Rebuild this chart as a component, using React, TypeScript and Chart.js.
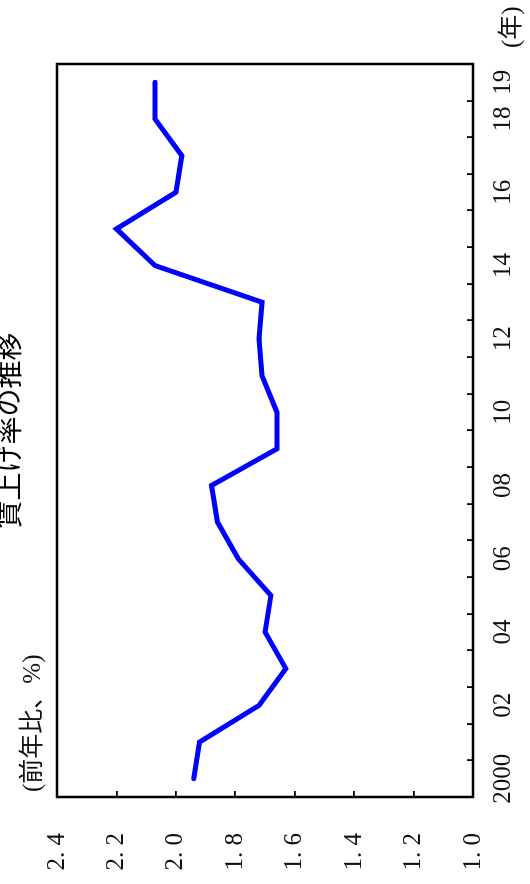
import React, { useEffect, useRef } from 'react';
import { Chart, registerables } from 'chart.js';

Chart.register(...registerables);

// ---- data ----
const years: string[] = [
  '2000', '01', '02', '03', '04', '05', '06', '07', '08', '09',
  '10', '11', '12', '13', '14', '15', '16', '17', '18', '19',
];
const shownYears: string[] = ['2000', '02', '04', '06', '08', '10', '12', '14', '16', '18', '19'];
const wageRise: number[] = [
  1.94, 1.92, 1.72, 1.63, 1.70, 1.68, 1.79, 1.86, 1.88, 1.66,
  1.66, 1.71, 1.72, 1.71, 2.07, 2.20, 2.00, 1.98, 2.07, 2.07,
];
const valueMin = 1.0;
const valueMax = 2.4;
const valueStep = 0.2;
const titleText = '賃上げ率の推移';
const valueUnit = '(前年比、%)';
const yearUnit = '(年)';

const W = 884;
const H = 530;

const decor = {
  id: 'decor',
  afterDraw(chart: any) {
    const { ctx, chartArea: a } = chart;
    ctx.save();
    ctx.strokeStyle = '#000';
    ctx.lineWidth = 2.5;
    ctx.strokeRect(a.left, a.top, a.right - a.left, a.bottom - a.top);
    ctx.fillStyle = '#000';
    ctx.font = '28px "Noto Sans CJK JP"';
    ctx.textAlign = 'center';
    ctx.textBaseline = 'middle';
    ctx.fillText(titleText, (a.left + a.right) / 2, 8);
    ctx.fillStyle = '#111';
    ctx.font = '25px "Liberation Serif", "Noto Sans CJK JP"';
    ctx.textAlign = 'left';
    ctx.textBaseline = 'alphabetic';
    ctx.fillText(valueUnit, a.left + 5, 40);
    ctx.fillText(yearUnit, a.right + 16, 519);
    ctx.restore();
  },
};

export default function App() {
  const ref = useRef<HTMLCanvasElement | null>(null);
  useEffect(() => {
    if (!ref.current) return;
    const chart = new Chart(ref.current, {
      type: 'line',
      data: {
        labels: years,
        datasets: [
          {
            data: wageRise,
            borderColor: '#0000ff',
            borderWidth: 5,
            borderCapStyle: 'round',
            borderJoinStyle: 'miter',
            pointRadius: 0,
            tension: 0,
            fill: false,
          },
        ],
      },
      options: {
        responsive: false,
        animation: false,
        devicePixelRatio: 1,
        layout: { padding: { top: 56, right: 64, bottom: 0, left: 0 } },
        plugins: {
          legend: { display: false },
          tooltip: { enabled: false },
          title: { display: false },
        },
        scales: {
          x: {
            type: 'category',
            offset: true,
            grid: {
              offset: true,
              drawOnChartArea: false,
              drawTicks: true,
              tickLength: -6,
              color: '#000',
              lineWidth: 1.8,
            },
            border: { display: false },
            ticks: {
              autoSkip: false,
              maxRotation: 0,
              minRotation: 0,
              padding: 21,
              color: '#111',
              font: { family: '"Liberation Serif"', size: 25 },
              callback: (_v: any, i: number) => (shownYears.includes(years[i]) ? years[i] : ''),
            },
            afterFit: (s: any) => {
              s.height = 57;
            },
          },
          y: {
            type: 'linear',
            min: valueMin,
            max: valueMax,
            grid: {
              drawOnChartArea: false,
              drawTicks: true,
              tickLength: -6,
              color: '#000',
              lineWidth: 1.8,
            },
            border: { display: false },
            ticks: {
              stepSize: valueStep,
              padding: 42,
              color: '#111',
              font: { family: '"Liberation Serif"', size: 25 },
              callback: (v: any) => Number(v).toFixed(1).replace('.', '. '),
            },
            afterFit: (s: any) => {
              s.width = 87;
            },
          },
        },
      },
      plugins: [decor],
    });
    return () => chart.destroy();
  }, []);

  return (
    <div
      style={{
        position: 'fixed',
        left: 0,
        top: 0,
        width: W,
        height: H,
        transformOrigin: '0 0',
        transform: `translate(0px, ${W}px) rotate(-90deg)`,
        background: '#fff',
      }}
    >
      <canvas ref={ref} width={W} height={H} style={{ display: 'block' }} />
    </div>
  );
}
